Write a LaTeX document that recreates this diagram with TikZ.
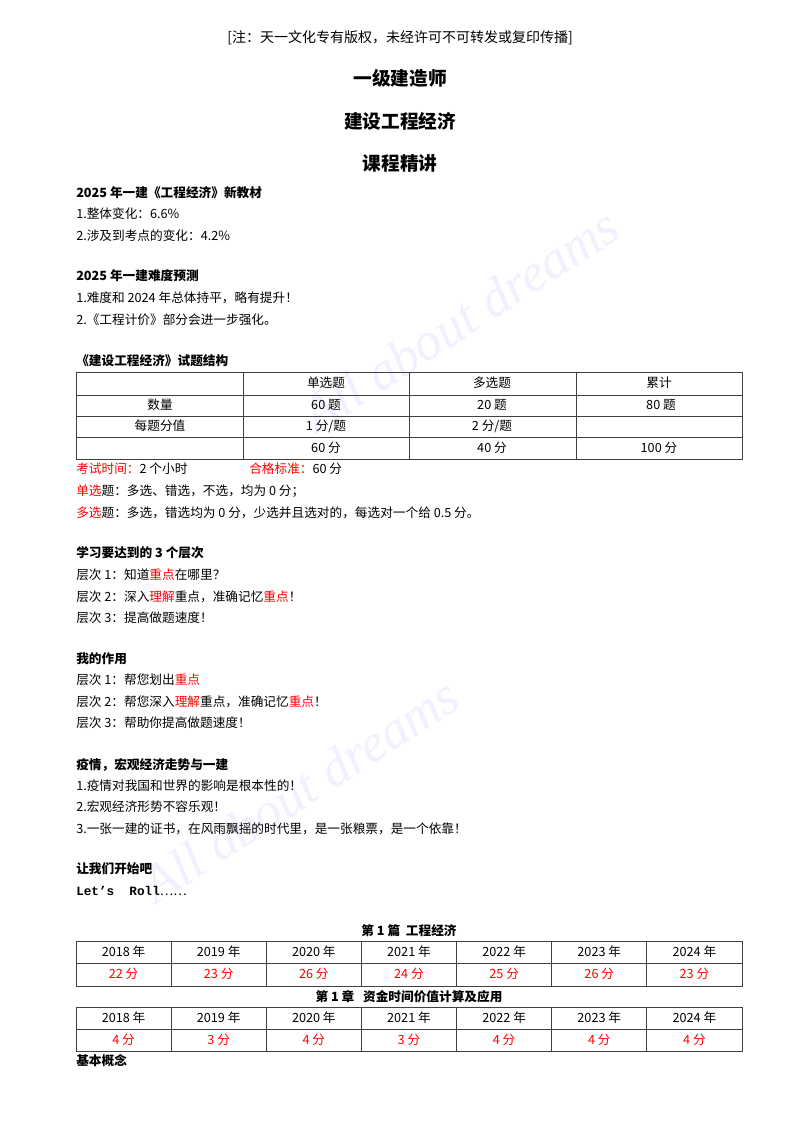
\documentclass[tikz,border=0pt]{standalone}
\usepackage{fontspec}
\setmainfont{Noto Sans CJK SC}
\newfontfamily\monof{Liberation Mono}
\newfontfamily\wmf{Liberation Serif}
\begin{document}
\begin{tikzpicture}[x=0.75pt,y=-0.75pt,
  txt/.style={anchor=west,inner sep=0pt,font=\fontsize{9.5}{11}\selectfont},
  bt/.style={txt,font=\fontsize{9.5}{11}\selectfont\bfseries},
  ttl/.style={inner sep=0pt,font=\fontsize{14}{16}\selectfont\bfseries},
  cell/.style={inner sep=0pt,font=\fontsize{9.5}{11}\selectfont},
  wm/.style={rotate=33,text=blue!6,font=\fontsize{40}{40}\wmf\itshape},
  tbl/.style={draw=black!75,line width=0.6pt}]
\useasboundingbox[fill=white] (0,0) rectangle (800,1132);
% watermarks
\node[wm] (wm1) at (460,320) {All about dreams};
\node[wm] (wm2) at (300,790) {All about dreams};
\def\R#1{\textcolor{red}{#1}}
\node[cell,font=\fontsize{10.5}{12}\selectfont] (hd) at (400,38) {[注：天一文化专有版权，未经许可不可转发或复印传播]};
\node[ttl] (t1) at (400,78) {一级建造师};
\node[ttl] (t2) at (400,121) {建设工程经济};
\node[ttl] (t3) at (400,163) {课程精讲};
\node[bt] (a1) at (76,193) {2025 年一建《工程经济》新教材};
\node[txt] (a2) at (76,214) {1.整体变化：6.6\%};
\node[txt] (a3) at (76,236) {2.涉及到考点的变化：4.2\%};
\node[bt] (b1) at (76,276) {2025 年一建难度预测};
\node[txt] (b2) at (76,298) {1.难度和 2024 年总体持平，略有提升！};
\node[txt] (b3) at (76,320) {2.《工程计价》部分会进一步强化。};
\node[bt] (c1) at (76,361) {《建设工程经济》试题结构};
% table 1
\draw[tbl] (76,372) rectangle (742,459);
\foreach \y in {395,416,437} \draw[tbl] (76,\y) -- (742,\y);
\foreach \x in {243,409,576} \draw[tbl] (\x,372) -- (\x,459);
\node[cell] (h1) at (326,383) {单选题};
\node[cell] (h2) at (492,383) {多选题};
\node[cell] (h3) at (659,383) {累计};
\node[cell] (r1) at (160,405) {数量};
\node[cell] (r1a) at (326,405) {60 题};
\node[cell] (r1b) at (492,405) {20 题};
\node[cell] (r1c) at (661,405) {80 题};
\node[cell] (r2) at (160,426) {每题分值};
\node[cell] (r2a) at (326,426) {1 分/题};
\node[cell] (r2b) at (492,426) {2 分/题};
\node[cell] (r3a) at (326,448) {60 分};
\node[cell] (r3b) at (492,448) {40 分};
\node[cell] (r3c) at (659,448) {100 分};
\node[txt] (d1) at (76,469) {\R{考试时间：}2 个小时};
\node[txt] (d1b) at (249,469) {\R{合格标准：}60 分};
\node[txt] (d2) at (76,491) {\R{单选}题：多选、错选，不选，均为 0 分；};
\node[txt] (d3) at (76,513) {\R{多选}题：多选，错选均为 0 分，少选并且选对的，每选对一个给 0.5 分。};
\node[bt] (e1) at (76,553) {学习要达到的 3 个层次};
\node[txt] (e2) at (76,575) {层次 1：知道\R{重点}在哪里？};
\node[txt] (e3) at (76,597) {层次 2：深入\R{理解}重点，准确记忆\R{重点}！};
\node[txt] (e4) at (76,618) {层次 3：提高做题速度！};
\node[bt] (f1) at (76,659) {我的作用};
\node[txt] (f2) at (76,680) {层次 1：帮您划出\R{重点}};
\node[txt] (f3) at (76,702) {层次 2：帮您深入\R{理解}重点，准确记忆\R{重点}！};
\node[txt] (f4) at (76,723) {层次 3：帮助你提高做题速度！};
\node[bt] (g1) at (76,765) {疫情，宏观经济走势与一建};
\node[txt] (g2) at (76,786) {1.疫情对我国和世界的影响是根本性的！};
\node[txt] (g3) at (76,807) {2.宏观经济形势不容乐观！};
\node[txt] (g4) at (76,829) {3.一张一建的证书，在风雨飘摇的时代里，是一张粮票，是一个依靠！};
\node[bt] (h0) at (76,869) {让我们开始吧};
\node[txt] (lr) at (76,891) {\monof\bfseries Let’s\ \ Roll\textnormal{……}};
\node[cell,font=\fontsize{9.5}{11}\selectfont\bfseries] (p1) at (409,931) {第 1 篇\ \ 工程经济};
% table 2
\draw[tbl] (76,941) rectangle (742,986);
\draw[tbl] (76,963) -- (742,963);
\foreach \i in {1,...,6} \draw[tbl] ({76+\i*95.14},941) -- ({76+\i*95.14},986);
\foreach \yr/\sc [count=\i from 0] in {2018/22,2019/23,2020/26,2021/24,2022/25,2023/26,2024/23}{
  \node[cell] (y\i) at ({76+(\i+0.5)*95.14},952) {\yr\ 年};
  \node[cell,text=red] (s\i) at ({76+(\i+0.5)*95.14},974) {\sc\ 分};
}
\node[cell,font=\fontsize{9.5}{11}\selectfont\bfseries] (p2) at (409,997) {第 1 章\ \ \ 资金时间价值计算及应用};
% table 3
\draw[tbl] (76,1007) rectangle (742,1051);
\draw[tbl] (76,1029) -- (742,1029);
\foreach \i in {1,...,6} \draw[tbl] ({76+\i*95.14},1007) -- ({76+\i*95.14},1051);
\foreach \yr/\sc [count=\i from 0] in {2018/4,2019/3,2020/4,2021/3,2022/4,2023/4,2024/4}{
  \node[cell] (z\i) at ({76+(\i+0.5)*95.14},1018) {\yr\ 年};
  \node[cell,text=red] (u\i) at ({76+(\i+0.5)*95.14},1040) {\sc\ 分};
}
\node[bt] (k1) at (76,1061) {基本概念};
\end{tikzpicture}
\end{document}
